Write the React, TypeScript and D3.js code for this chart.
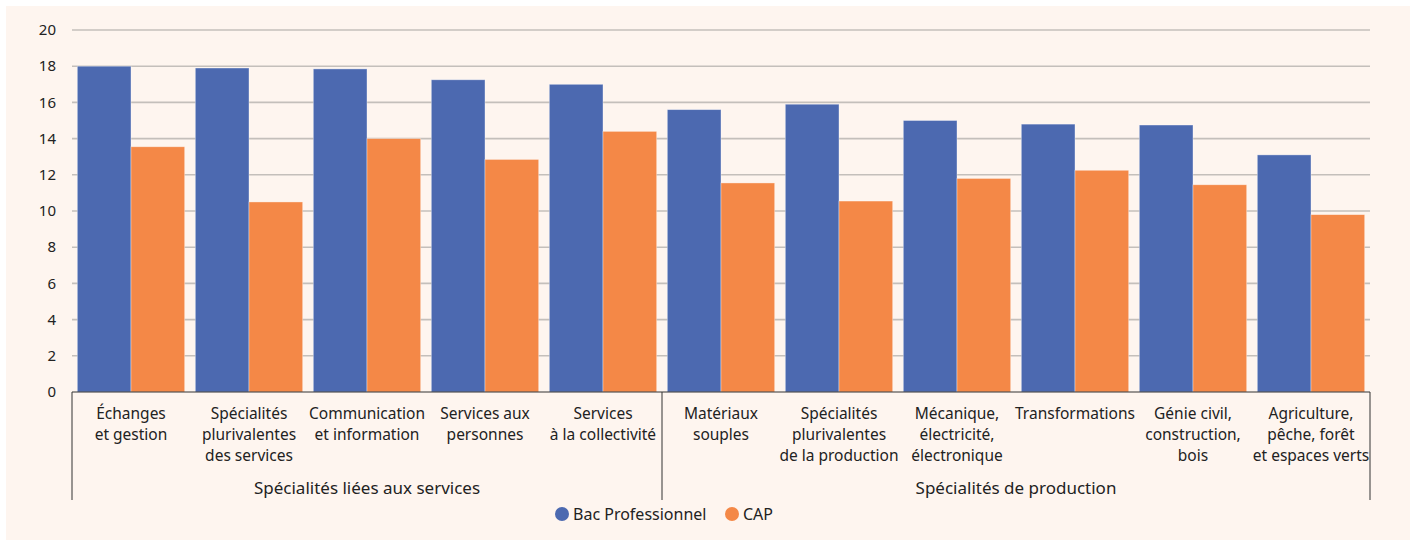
import React, { useEffect, useRef } from 'react';
import * as d3 from 'd3';

const categories: string[][] = [
  ['Échanges', 'et gestion'],
  ['Spécialités', 'plurivalentes', 'des services'],
  ['Communication', 'et information'],
  ['Services aux', 'personnes'],
  ['Services', 'à la collectivité'],
  ['Matériaux', 'souples'],
  ['Spécialités', 'plurivalentes', 'de la production'],
  ['Mécanique,', 'électricité,', 'électronique'],
  ['Transformations'],
  ['Génie civil,', 'construction,', 'bois'],
  ['Agriculture,', 'pêche, forêt', 'et espaces verts'],
];

const bacPro = [18.0, 17.9, 17.85, 17.25, 17.0, 15.6, 15.9, 15.0, 14.8, 14.75, 13.1];
const cap = [13.55, 10.5, 14.0, 12.85, 14.4, 11.55, 10.55, 11.8, 12.25, 11.45, 9.8];

const groups = [
  { label: 'Spécialités liées aux services', from: 0, to: 5 },
  { label: 'Spécialités de production', from: 5, to: 11 },
];

const series = ['Bac Professionnel', 'CAP'];
const yTicks = [0, 2, 4, 6, 8, 10, 12, 14, 16, 18, 20];

const colors = ['#4c69b0', '#f48847'];

const Chart: React.FC = () => {
  const svgRef = useRef<SVGSVGElement>(null);

  useEffect(() => {
    if (!svgRef.current) return;
    const svg = d3.select(svgRef.current);
    svg.selectAll('*').remove();

    const W = 1416;
    const H = 544;
    const left = 72;
    const right = 1370;
    const top = 30;
    const bottom = 392;
    const font = '"Noto Sans", "Open Sans", sans-serif';

    svg.append('rect')
      .attr('x', 6).attr('y', 6)
      .attr('width', W - 12).attr('height', H - 10)
      .attr('fill', '#fef5ef');

    const x = d3.scaleBand<number>()
      .domain(d3.range(categories.length))
      .range([left, right])
      .paddingInner(0.09)
      .paddingOuter(0.045);

    const y = d3.scaleLinear().domain([0, 20]).range([bottom, top]);

    // gridlines
    svg.append('g')
      .selectAll('line')
      .data(yTicks.filter(t => t > 0))
      .enter()
      .append('line')
      .attr('x1', left).attr('x2', right)
      .attr('y1', d => y(d)).attr('y2', d => y(d))
      .attr('stroke', '#c4bfbb')
      .attr('stroke-width', 1.6);

    // y tick labels
    svg.append('g')
      .selectAll('text')
      .data(yTicks)
      .enter()
      .append('text')
      .attr('x', 56)
      .attr('y', d => y(d))
      .attr('dy', '0.35em')
      .attr('text-anchor', 'end')
      .style('font-family', font)
      .style('font-size', '15px')
      .attr('fill', '#222')
      .text(d => d);

    const bw = x.bandwidth() / 2;

    const data = bacPro.map((v, i) => ({ i, vals: [v, cap[i]] }));
    const g = svg.append('g');
    data.forEach(d => {
      d.vals.forEach((v, s) => {
        g.append('rect')
          .attr('x', (x(d.i) || 0) + s * bw)
          .attr('y', y(v))
          .attr('width', bw)
          .attr('height', bottom - y(v))
          .attr('fill', colors[s])
          .attr('stroke', 'rgba(255,255,255,0.45)')
          .attr('stroke-width', 0.8);
      });
    });

    // x axis line
    svg.append('line')
      .attr('x1', left).attr('x2', right)
      .attr('y1', bottom).attr('y2', bottom)
      .attr('stroke', '#333').attr('stroke-width', 1);

    // group separators
    const step = x.step();
    const boundaries = [0, 5, 11];
    svg.append('g')
      .selectAll('line')
      .data(boundaries)
      .enter()
      .append('line')
      .attr('x1', d => left + d * step)
      .attr('x2', d => left + d * step)
      .attr('y1', bottom)
      .attr('y2', 500)
      .attr('stroke', '#333')
      .attr('stroke-width', 1);

    // category labels
    categories.forEach((lines, i) => {
      const cx = (x(i) || 0) + x.bandwidth() / 2;
      const t = svg.append('text')
        .attr('text-anchor', 'middle')
        .style('font-family', font)
        .style('font-size', '15.5px')
        .attr('fill', '#222');
      lines.forEach((ln, k) => {
        t.append('tspan')
          .attr('x', cx)
          .attr('y', 419 + k * 21)
          .text(ln);
      });
    });

    // group labels
    groups.forEach(gr => {
      svg.append('text')
        .attr('x', left + ((gr.from + gr.to) / 2) * step)
        .attr('y', 494)
        .attr('text-anchor', 'middle')
        .style('font-family', font)
        .style('font-size', '17px')
        .attr('fill', '#222')
        .text(gr.label);
    });

    // legend
    const legend = svg.append('g').attr('transform', 'translate(562, 514)');
    const legX = [0, 170];
    series.forEach((s, i) => {
      legend.append('circle')
        .attr('cx', legX[i]).attr('cy', 0).attr('r', 7)
        .attr('fill', colors[i]);
      legend.append('text')
        .attr('x', legX[i] + 11).attr('y', 0)
        .attr('dy', '0.35em')
        .style('font-family', font)
        .style('font-size', '16px')
        .attr('fill', '#222')
        .text(s);
    });
  }, []);

  return <svg ref={svgRef} width={1416} height={544} style={{ display: 'block' }} />;
};

export default function App() {
  return (
    <div style={{ position: 'absolute', left: 0, top: 0, background: '#fff' }}>
      <Chart />
    </div>
  );
}
